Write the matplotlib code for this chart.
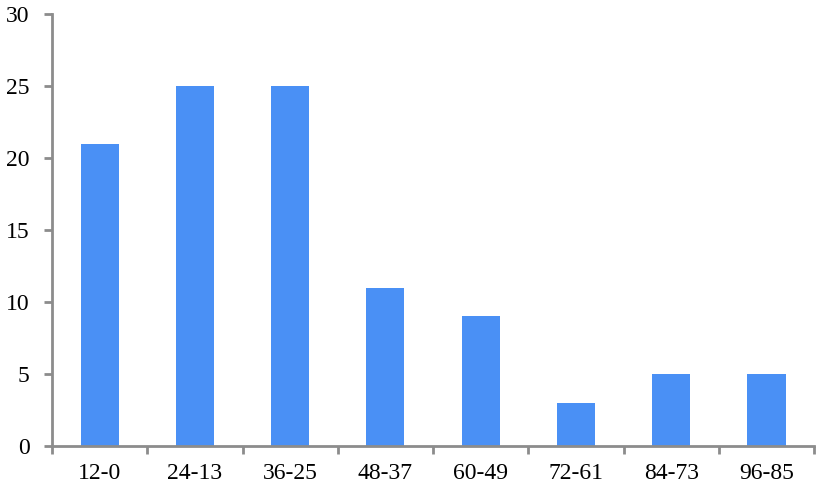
import matplotlib.pyplot as plt
import numpy as np

# --- Data ---
categories = ["12-0", "24-13", "36-25", "48-37", "60-49", "72-61", "84-73", "96-85"]
counts = [21, 25, 25, 11, 9, 3, 5, 5]

# --- Style ---
plt.rcParams['font.family'] = ['Liberation Serif', 'DejaVu Serif']
bar_color = "#4a90f5"
axis_color = "#8c8c8c"

fig = plt.figure(figsize=(8.19, 5.04), dpi=100)
ax = fig.add_axes([0.0635, 0.115, 0.9305, 0.857])

x = np.arange(len(categories))
ax.bar(x, counts, width=0.4, color=bar_color)

ax.set_xlim(-0.5, len(categories) - 0.5)
ax.set_ylim(0, 30)
ax.set_yticks(range(0, 31, 5))

# labels at category centres, tick marks at category boundaries
ax.set_xticks(x)
ax.set_xticklabels(categories)
ax.set_xticks(np.arange(-0.5, len(categories)), minor=True)
ax.tick_params(axis='x', which='major', length=0, pad=12, labelsize=17)
ax.tick_params(axis='x', which='minor', length=6, width=2, color=axis_color)
ax.tick_params(axis='y', length=6, width=2, color=axis_color, labelsize=17, pad=10)

for side in ['top', 'right']:
    ax.spines[side].set_visible(False)
for side in ['left', 'bottom']:
    ax.spines[side].set_color(axis_color)
    ax.spines[side].set_linewidth(2)

fig.savefig("out.png", dpi=100)
